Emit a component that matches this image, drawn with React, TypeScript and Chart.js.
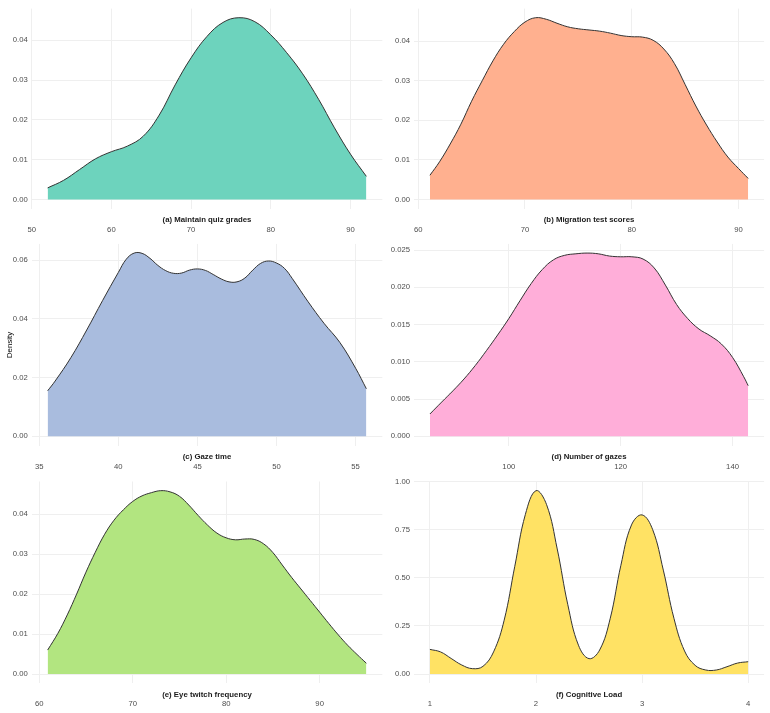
import React, { useEffect, useRef } from 'react';
import { Chart, registerables } from 'chart.js';

Chart.register(...registerables);

// ---------- data ----------
const aX = [52, 54, 56, 58, 60, 62, 64, 66, 68, 70, 72, 74, 76, 78, 80, 82, 84, 86, 88, 90, 92];
const aY = [0.0029, 0.0048, 0.0075, 0.0102, 0.012, 0.0134, 0.0159, 0.0212, 0.0288, 0.0356, 0.041, 0.0445, 0.0457, 0.0447, 0.0414, 0.0369, 0.0316, 0.0252, 0.018, 0.0114, 0.0058];

const bX = [61.1, 62, 63, 64, 65, 66, 67, 68, 69, 70, 71, 72, 73, 74, 75, 76, 77, 78, 79, 80, 81, 82, 83, 84, 85, 86, 87, 88, 89, 90, 90.9];
const bY = [0.0061, 0.0095, 0.014, 0.019, 0.0248, 0.03, 0.035, 0.0392, 0.0424, 0.0448, 0.0459, 0.0455, 0.0445, 0.0436, 0.0431, 0.0428, 0.0425, 0.042, 0.0414, 0.0411, 0.041, 0.0402, 0.038, 0.0343, 0.029, 0.0236, 0.0188, 0.0145, 0.0107, 0.0078, 0.0053];

const cX = [35.53, 36, 37, 38, 39, 40, 40.5, 41, 41.5, 42, 42.5, 43, 43.5, 44, 44.5, 45, 45.5, 46, 46.5, 47, 47.5, 48, 48.5, 49, 49.5, 50, 50.5, 51, 52, 53, 54, 55, 55.68];
const cY = [0.0155, 0.0188, 0.0268, 0.0362, 0.0462, 0.0558, 0.0603, 0.0624, 0.0623, 0.0606, 0.0582, 0.0564, 0.0555, 0.0556, 0.0566, 0.057, 0.0565, 0.0551, 0.0536, 0.0526, 0.0526, 0.0539, 0.0566, 0.0589, 0.0597, 0.059, 0.0572, 0.0537, 0.0458, 0.0385, 0.032, 0.0232, 0.0162];

const dX = [85.9, 88, 90, 92, 94, 96, 98, 100, 102, 104, 106, 108, 110, 112, 114, 116, 118, 120, 122, 124, 126, 128, 130, 132, 134, 136, 138, 140, 142, 142.8];
const dY = [0.003, 0.0046, 0.0061, 0.0077, 0.0095, 0.0115, 0.0136, 0.0158, 0.0182, 0.0205, 0.0224, 0.0237, 0.0243, 0.0245, 0.0246, 0.0245, 0.0242, 0.0241, 0.0241, 0.0238, 0.0226, 0.0203, 0.0177, 0.0158, 0.0144, 0.0135, 0.0124, 0.0106, 0.008, 0.0068];

const eX = [60.9, 62, 63, 64, 65, 66, 67, 68, 69, 70, 71, 72, 73, 74, 75, 76, 77, 78, 79, 80, 81, 82, 83, 84, 85, 86, 87, 88, 89, 90, 91, 92, 93, 94, 95];
const eY = [0.006, 0.0102, 0.0148, 0.02, 0.0255, 0.0305, 0.035, 0.0385, 0.0411, 0.0432, 0.0446, 0.0454, 0.0459, 0.0456, 0.0445, 0.0423, 0.0397, 0.0373, 0.0353, 0.0341, 0.0336, 0.0338, 0.0337, 0.0326, 0.0304, 0.0273, 0.0242, 0.0213, 0.0184, 0.0155, 0.0126, 0.0098, 0.0072, 0.0049, 0.0027];

const fX = [1, 1.1, 1.2, 1.3, 1.4, 1.5, 1.6, 1.7, 1.8, 1.9, 2, 2.1, 2.2, 2.3, 2.4, 2.5, 2.6, 2.7, 2.8, 2.9, 3, 3.1, 3.2, 3.3, 3.4, 3.5, 3.6, 3.7, 3.8, 3.9, 4];
const fY = [0.128, 0.115, 0.081, 0.047, 0.028, 0.04, 0.115, 0.28, 0.56, 0.83, 0.953, 0.88, 0.65, 0.36, 0.15, 0.08, 0.125, 0.29, 0.565, 0.775, 0.827, 0.75, 0.54, 0.29, 0.12, 0.045, 0.021, 0.021, 0.038, 0.057, 0.064];

const aXTicks = [50, 60, 70, 80, 90];
const bXTicks = [60, 70, 80, 90];
const cXTicks = [35, 40, 45, 50, 55];
const dXTicks = [100, 120, 140];
const eXTicks = [60, 70, 80, 90];
const fXTicks = [1, 2, 3, 4];

const aYTicks = [0, 0.01, 0.02, 0.03, 0.04];
const bYTicks = [0, 0.01, 0.02, 0.03, 0.04];
const cYTicks = [0, 0.02, 0.04, 0.06];
const dYTicks = [0, 0.005, 0.01, 0.015, 0.02, 0.025];
const eYTicks = [0, 0.01, 0.02, 0.03, 0.04];
const fYTicks = [0, 0.25, 0.5, 0.75, 1];

const titles = [
  '(a) Maintain quiz grades',
  '(b) Migration test scores',
  '(c) Gaze time',
  '(d) Number of gazes',
  '(e) Eye twitch frequency',
  '(f) Cognitive Load',
];
const yDecimals = [2, 2, 2, 3, 2, 2];
const fills = ['#6dd3bd', '#ffb08f', '#a9bcde', '#ffaed9', '#b2e580', '#ffe264'];

const yLabel = 'Density';

// ---------- layout ----------
const W = 770;
const H = 713;
const COLS: [number, number][] = [[31.7, 382.3], [414, 764.1]];
const ROWS: [number, number][] = [[6.7, 208.5], [243.9, 445.5], [481.5, 683.2]];
const Y_AXIS_W = 28;
const X_AXIS_H = 30;
const FONT = '"Liberation Sans", Arial, sans-serif';

const panels = [
  { xs: aX, ys: aY, xt: aXTicks, yt: aYTicks },
  { xs: bX, ys: bY, xt: bXTicks, yt: bYTicks },
  { xs: cX, ys: cY, xt: cXTicks, yt: cYTicks },
  { xs: dX, ys: dY, xt: dXTicks, yt: dYTicks },
  { xs: eX, ys: eY, xt: eXTicks, yt: eYTicks },
  { xs: fX, ys: fY, xt: fXTicks, yt: fYTicks },
];

function Panel({ idx }: { idx: number }) {
  const ref = useRef<HTMLCanvasElement | null>(null);
  useEffect(() => {
    const p = panels[idx];
    const col = COLS[idx % 2];
    const row = ROWS[Math.floor(idx / 2)];
    const xMinD = Math.min(...p.xs);
    const xMaxD = Math.max(...p.xs);
    const xr = xMaxD - xMinD;
    const yMaxD = Math.max(...p.ys);
    const title = titles[idx];
    const dec = yDecimals[idx];

    const stripPlugin = {
      id: 'strip' + idx,
      afterDraw(chart: any) {
        const { ctx, chartArea } = chart;
        ctx.save();
        ctx.font = `bold 7.8px ${FONT}`;
        ctx.fillStyle = '#1a1a1a';
        ctx.textAlign = 'center';
        ctx.textBaseline = 'middle';
        ctx.fillText(title, (chartArea.left + chartArea.right) / 2, chartArea.bottom + 11.5);
        if (idx === 2) {
          ctx.font = `8px ${FONT}`;
          ctx.fillStyle = '#000000';
          ctx.translate(9.5, 345);
          ctx.rotate(-Math.PI / 2);
          ctx.fillText(yLabel, 0, 0);
        }
        ctx.restore();
      },
    };

    const chart = new Chart(ref.current as HTMLCanvasElement, {
      type: 'line',
      data: {
        datasets: [
          {
            data: p.xs.map((x, i) => ({ x, y: p.ys[i] })),
            borderColor: '#333333',
            borderWidth: 1,
            backgroundColor: fills[idx],
            fill: 'origin',
            pointRadius: 0,
            tension: 0.4,
          },
        ],
      },
      options: {
        responsive: false,
        animation: false,
        events: [],
        layout: {
          autoPadding: false,
          padding: {
            left: col[0] - Y_AXIS_W,
            top: row[0],
            right: W - col[1],
            bottom: H - row[1] - X_AXIS_H,
          },
        },
        plugins: { legend: { display: false }, tooltip: { enabled: false } },
        scales: {
          x: {
            type: 'linear',
            min: xMinD - 0.05 * xr,
            max: xMaxD + 0.05 * xr,
            afterBuildTicks: (s: any) => {
              s.ticks = p.xt.map((v) => ({ value: v }));
            },
            afterFit: (s: any) => {
              s.height = X_AXIS_H;
            },
            grid: { color: '#efefef', lineWidth: 1, drawTicks: false },
            border: { display: false },
            ticks: {
              padding: 16.5,
              color: '#4d4d4d',
              font: { family: FONT, size: 7.7 },
              maxRotation: 0,
              autoSkip: false,
              callback: (v: any) => String(v),
            },
          },
          y: {
            type: 'linear',
            min: -0.05 * yMaxD,
            max: 1.05 * yMaxD,
            afterBuildTicks: (s: any) => {
              s.ticks = p.yt.map((v) => ({ value: v }));
            },
            afterFit: (s: any) => {
              s.width = Y_AXIS_W;
            },
            grid: { color: '#efefef', lineWidth: 1, drawTicks: false },
            border: { display: false },
            ticks: {
              padding: 4,
              color: '#4d4d4d',
              font: { family: FONT, size: 7.7 },
              autoSkip: false,
              callback: (v: any) => Number(v).toFixed(dec),
            },
          },
        },
      },
      plugins: [stripPlugin],
    } as any);
    return () => chart.destroy();
  }, [idx]);
  return (
    <canvas
      ref={ref}
      width={W}
      height={H}
      style={{ position: 'absolute', left: 0, top: 0, width: W, height: H }}
    />
  );
}

export default function App() {
  useEffect(() => {
    document.body.style.margin = '0';
    document.body.style.background = '#ffffff';
  }, []);
  return (
    <div style={{ position: 'relative', width: W, height: H, background: '#ffffff' }}>
      {panels.map((_, i) => (
        <Panel key={i} idx={i} />
      ))}
    </div>
  );
}
